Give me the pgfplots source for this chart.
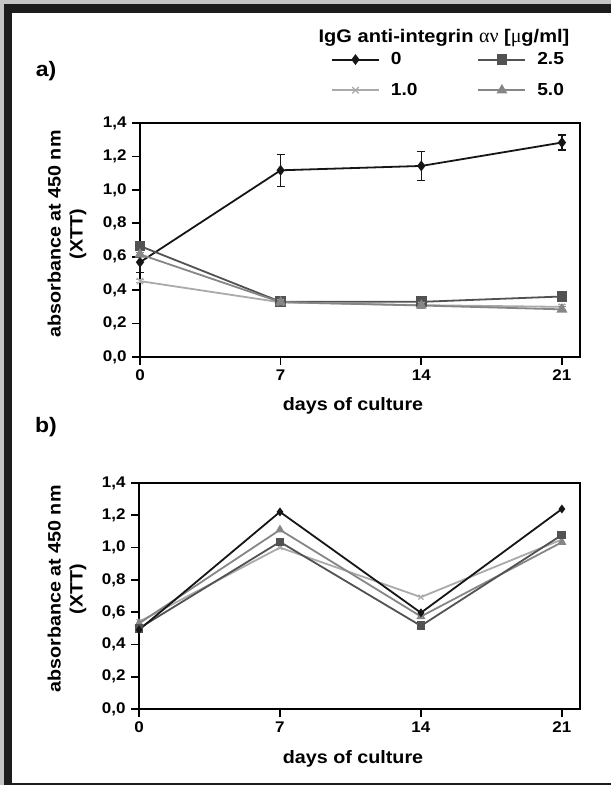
\documentclass[border=0pt]{standalone}
\usepackage{fontspec}
\setmainfont{Liberation Sans}[FakeStretch=1.1]
\newfontfamily\grk{Liberation Serif}
\usepackage{pgfplots}
\pgfplotsset{compat=1.18}
\definecolor{c0}{HTML}{161616}
\definecolor{c25}{HTML}{525252}
\definecolor{c10}{HTML}{AAAAAA}
\definecolor{c50}{HTML}{868686}
\definecolor{frameg}{HTML}{C4C4C4}
\definecolor{framek}{HTML}{1C1C1C}

\pgfplotsset{
  myaxis/.style={
    scale only axis,
    xmin=0, xmax=21.9, ymin=0, ymax=1.4,
    clip=false,
    axis line style={line width=1.6bp, black},
    xtick={0,7,14,21},
    ytick={0,0.2,0.4,0.6,0.8,1.0,1.2,1.4},
    tick align=outside, xtick pos=bottom, ytick pos=left,
    major tick length=8bp,
    tick style={line width=1.6bp, black},
    /pgf/number format/use comma,
    /pgf/number format/assume math mode=true,
    tick label style={font=\bfseries\fontsize{15.5}{17}\selectfont},
    yticklabel style={/pgf/number format/fixed, /pgf/number format/fixed zerofill, /pgf/number format/precision=1, xshift=-2bp},
    xticklabel style={yshift=-1bp},
    every axis plot/.append style={line width=1.8bp},
    legend image code/.code={\draw[mark repeat=2,mark phase=2,#1] plot coordinates {(0bp,0bp) (23.5bp,0bp) (47bp,0bp)};},
  },
  s0/.style={c0, mark=diamond*, mark size=4bp, mark options={fill=c0, draw=c0, solid}},
  s25/.style={c25, mark=square*, mark size=4.5bp, mark options={fill=c25, draw=c25, solid}},
  s10/.style={c10, mark=x, mark size=4.5bp, mark options={draw=c10, solid, line width=1.2bp}},
  s50/.style={c50, mark=triangle*, mark size=4.5bp, mark options={fill=c50, draw=c50, solid}},
  eb/.style={error bars/.cd, y dir=both, y explicit, error bar style={line width=1.2bp, #1}, error mark options={rotate=90, mark size=4bp, line width=1.2bp, #1}},
}

\begin{document}
\begin{tikzpicture}
\useasboundingbox (0,0) rectangle (611bp,785bp);
\fill[white] (0,0) rectangle (611bp,785bp);
\fill[frameg] (0,781bp) rectangle (611bp,785bp);
\fill[frameg] (0,0) rectangle (4bp,785bp);
\fill[framek] (4bp,772bp) rectangle (611bp,781bp);
\fill[framek] (4bp,0) rectangle (11.5bp,781bp);
\fill[framek] (4bp,0) rectangle (611bp,2.2bp);

% panel labels
\node[font=\bfseries\fontsize{21}{24}\selectfont] at (46bp,714bp) {a)};
\node[font=\bfseries\fontsize{21}{24}\selectfont] at (46bp,358bp) {b)};

% legend title
\node[font=\bfseries\fontsize{18.3}{20}\selectfont] at (444bp,747bp) {IgG anti-integrin {\grk\mdseries\fontsize{20}{20}\selectfont αν} [{\grk\mdseries\fontsize{20}{20}\selectfont μ}g/ml]};

% axis labels
\node[rotate=90, align=center, font=\bfseries\fontsize{18}{22}\selectfont] at (67bp,551bp) {absorbance at 450 nm\\(XTT)};
\node[rotate=90, align=center, font=\bfseries\fontsize{18}{22}\selectfont] at (67bp,196bp) {absorbance at 450 nm\\(XTT)};
\node[font=\bfseries\fontsize{18}{22}\selectfont] at (353bp,379bp) {days of culture};
\node[font=\bfseries\fontsize{18}{22}\selectfont] at (353bp,26bp) {days of culture};

% ---------- panel a ----------
\begin{axis}[myaxis,
  at={(140bp,428bp)}, anchor=south west, width=440bp, height=234bp,
  legend style={at={(0.427,1.318)}, anchor=north west, draw=none, fill=none,
    font=\bfseries\fontsize{17.5}{20}\selectfont, row sep=13bp,
    /tikz/every odd column/.append style={column sep=9bp},
    /tikz/every even column/.append style={column sep=58bp}},
  legend columns=2, legend cell align=left,
]
\addplot+[s0, eb=c0] coordinates {
  (0,0.567) +- (0,0.06)
  (7,1.117) +- (0,0.095)
  (14,1.143) +- (0,0.088)
  (21,1.283) +- (0,0.045)
};
\addlegendentry{0}
\addplot+[s25, eb=c25] coordinates {
  (0,0.664) +- (0,0.01)
  (7,0.330) +- (0,0.015)
  (14,0.330) +- (0,0.012)
  (21,0.362) +- (0,0.01)
};
\addlegendentry{2.5}
\addplot+[s10, eb=c10] coordinates {
  (0,0.454) +- (0,0.01)
  (7,0.327) +- (0,0.015)
  (14,0.310) +- (0,0.015)
  (21,0.300) +- (0,0.015)
};
\addlegendentry{1.0}
\addplot+[s50, eb=c50] coordinates {
  (0,0.614) +- (0,0.01)
  (7,0.328) +- (0,0.015)
  (14,0.308) +- (0,0.015)
  (21,0.285) +- (0,0.015)
};
\addlegendentry{5.0}
\end{axis}

% ---------- panel b ----------
\begin{axis}[myaxis,
  at={(139bp,76bp)}, anchor=south west, width=441bp, height=226bp,
]
\addplot+[s10, mark size=3.5bp] coordinates {(0,0.54) (7,1.00) (14,0.693) (21,1.05)};
\addplot+[s50, mark size=3.5bp] coordinates {(0,0.53) (7,1.11) (14,0.573) (21,1.033)};
\addplot+[s25, mark size=3.5bp] coordinates {(0,0.50) (7,1.035) (14,0.515) (21,1.078)};
\addplot+[s0, mark size=3bp] coordinates {(0,0.49) (7,1.221) (14,0.596) (21,1.239)};
\end{axis}
\end{tikzpicture}
\end{document}
